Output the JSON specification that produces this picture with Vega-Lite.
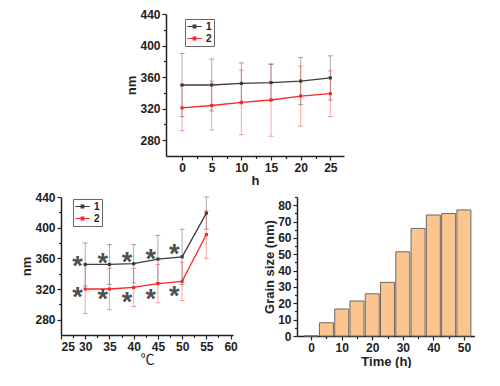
{
  "$schema": "https://vega.github.io/schema/vega-lite/v6.json",
  "background": "white",
  "padding": {"left": 20, "top": 8, "right": 0, "bottom": 0},
  "datasets": {
    "time_nm": [
      {"h": 0, "s": "1", "m": 350, "lo": 310, "hi": 390},
      {"h": 5, "s": "1", "m": 350, "lo": 317, "hi": 383},
      {"h": 10, "s": "1", "m": 352, "lo": 326, "hi": 378},
      {"h": 15, "s": "1", "m": 353, "lo": 330, "hi": 376},
      {"h": 20, "s": "1", "m": 355, "lo": 325, "hi": 385},
      {"h": 25, "s": "1", "m": 359, "lo": 331, "hi": 387},
      {"h": 0, "s": "2", "m": 321, "lo": 292, "hi": 350},
      {"h": 5, "s": "2", "m": 324, "lo": 293, "hi": 355},
      {"h": 10, "s": "2", "m": 328, "lo": 287, "hi": 369},
      {"h": 15, "s": "2", "m": 331, "lo": 285, "hi": 377},
      {"h": 20, "s": "2", "m": 336, "lo": 298, "hi": 374},
      {"h": 25, "s": "2", "m": 339, "lo": 310, "hi": 368}
    ],
    "temp_nm": [
      {"t": 30, "s": "1", "m": 352, "lo": 324, "hi": 380},
      {"t": 35, "s": "1", "m": 352, "lo": 326, "hi": 378},
      {"t": 40, "s": "1", "m": 353, "lo": 328, "hi": 378},
      {"t": 45, "s": "1", "m": 359, "lo": 328, "hi": 390},
      {"t": 50, "s": "1", "m": 362, "lo": 326, "hi": 398},
      {"t": 55, "s": "1", "m": 419, "lo": 398, "hi": 440},
      {"t": 30, "s": "2", "m": 320, "lo": 288, "hi": 352},
      {"t": 35, "s": "2", "m": 320, "lo": 293, "hi": 347},
      {"t": 40, "s": "2", "m": 322, "lo": 297, "hi": 347},
      {"t": 45, "s": "2", "m": 327, "lo": 302, "hi": 352},
      {"t": 50, "s": "2", "m": 330, "lo": 305, "hi": 355},
      {"t": 55, "s": "2", "m": 391, "lo": 360, "hi": 422}
    ],
    "stars": [
      {"t": 28.4, "v": 357}, {"t": 33.6, "v": 361}, {"t": 38.6, "v": 362},
      {"t": 43.5, "v": 365.5}, {"t": 48.4, "v": 372},
      {"t": 28.4, "v": 316}, {"t": 33.6, "v": 313}, {"t": 38.6, "v": 310},
      {"t": 43.5, "v": 313.5}, {"t": 48.4, "v": 318}
    ],
    "grain": [
      {"time": 0, "g": 0}, {"time": 5, "g": 8.1}, {"time": 10, "g": 16.5},
      {"time": 15, "g": 21.4}, {"time": 20, "g": 25.8}, {"time": 25, "g": 32.8},
      {"time": 30, "g": 51.5}, {"time": 35, "g": 65.8}, {"time": 40, "g": 74},
      {"time": 45, "g": 74.9}, {"time": 50, "g": 77.1}
    ]
  },
  "resolve": {"scale": {"color": "independent"}, "legend": {"color": "independent"}},
  "spacing": 4,
  "vconcat": [
    {
      "spacing": 0,
      "resolve": {"scale": {"color": "independent"}, "legend": {"color": "independent"}},
      "hconcat": [
        {"width": 64, "height": 1, "data": {"values": []}, "mark": {"type": "point", "opacity": 0}, "encoding": {}},
        {
          "width": 178,
          "height": 142,
          "data": {"name": "time_nm"},
          "encoding": {
            "x": {"field": "h", "type": "quantitative", "scale": {"domain": [-2.7, 27.3], "nice": false, "zero": false},
                  "axis": {"values": [0, 2.5, 5, 7.5, 10, 12.5, 15, 17.5, 20, 22.5, 25], "labelExpr": "datum.value % 5 == 0 ? datum.label : ''",
                           "tickSize": {"condition": {"test": "datum.value % 5 == 0", "value": 4}, "value": 2.5},
                           "title": "h", "titlePadding": 1, "labelOverlap": false}},
            "y": {"field": "m", "type": "quantitative", "scale": {"domain": [260, 440], "nice": false, "zero": false},
                  "axis": {"values": [280, 300, 320, 340, 360, 380, 400, 420, 440], "labelExpr": "datum.value % 40 == 0 ? datum.label : ''",
                           "tickSize": {"condition": {"test": "datum.value % 40 == 0", "value": 4}, "value": 2.5},
                           "title": "nm", "labelOverlap": false}},
            "color": {"field": "s", "type": "nominal", "scale": {"domain": ["1", "2"], "range": ["#3c3c3c", "#f5282a"]},
                      "legend": {"orient": "none", "legendX": 19, "legendY": 5}}
          },
          "layer": [
            {"mark": {"type": "rule", "strokeWidth": 1, "opacity": 0.42},
             "encoding": {"y": {"field": "lo", "type": "quantitative"}, "y2": {"field": "hi"}}},
            {"mark": {"type": "tick", "orient": "horizontal", "size": 5, "thickness": 1, "opacity": 0.45},
             "encoding": {"y": {"field": "lo", "type": "quantitative"}}},
            {"mark": {"type": "tick", "orient": "horizontal", "size": 5, "thickness": 1, "opacity": 0.45},
             "encoding": {"y": {"field": "hi", "type": "quantitative"}}},
            {"mark": {"type": "line", "strokeWidth": 1.3, "point": {"shape": "square", "size": 10, "filled": true}}}
          ]
        }
      ]
    },
    {
      "spacing": 25,
      "resolve": {"scale": {"color": "independent"}, "legend": {"color": "independent"}},
      "hconcat": [
        {
          "width": 172,
          "height": 138,
          "encoding": {
            "x": {"field": "t", "type": "quantitative", "scale": {"domain": [25, 60.5], "nice": false, "zero": false},
                  "axis": {"values": [25, 27.5, 30, 32.5, 35, 37.5, 40, 42.5, 45, 47.5, 50, 52.5, 55, 57.5, 60], "labelExpr": "datum.value % 5 == 0 ? datum.label : ''",
                           "tickSize": {"condition": {"test": "datum.value % 5 == 0", "value": 4}, "value": 2.5},
                           "title": "℃", "titleFont": "Noto Sans CJK SC", "titleFontWeight": "normal", "titleFontSize": 14, "titlePadding": 0, "labelOverlap": false}},
            "y": {"field": "m", "type": "quantitative", "scale": {"domain": [260, 440], "nice": false, "zero": false},
                  "axis": {"values": [280, 300, 320, 340, 360, 380, 400, 420, 440], "labelExpr": "datum.value % 40 == 0 ? datum.label : ''",
                           "tickSize": {"condition": {"test": "datum.value % 40 == 0", "value": 4}, "value": 2.5},
                           "title": "nm", "labelOverlap": false}}
          },
          "layer": [
            {
              "data": {"name": "temp_nm"},
              "encoding": {
                "color": {"field": "s", "type": "nominal", "scale": {"domain": ["1", "2"], "range": ["#3c3c3c", "#f5282a"]},
                          "legend": {"orient": "none", "legendX": 12, "legendY": 2}}
              },
              "layer": [
                {"mark": {"type": "rule", "strokeWidth": 1, "opacity": 0.42},
                 "encoding": {"y": {"field": "lo", "type": "quantitative"}, "y2": {"field": "hi"}}},
                {"mark": {"type": "tick", "orient": "horizontal", "size": 5, "thickness": 1, "opacity": 0.45},
                 "encoding": {"y": {"field": "lo", "type": "quantitative"}}},
                {"mark": {"type": "tick", "orient": "horizontal", "size": 5, "thickness": 1, "opacity": 0.45},
                 "encoding": {"y": {"field": "hi", "type": "quantitative"}}},
                {"mark": {"type": "line", "strokeWidth": 1.3, "point": {"shape": "square", "size": 10, "filled": true}}}
              ]
            },
            {
              "data": {"name": "stars"},
              "mark": {"type": "text", "text": "*", "fontSize": 27, "fontWeight": "bold", "color": "#505050", "baseline": "middle", "dy": 6},
              "encoding": {
                "y": {"field": "v", "type": "quantitative"}
              }
            }
          ]
        },
        {
          "width": 178,
          "height": 139,
          "data": {"name": "grain"},
          "mark": {"type": "bar", "size": 14, "fill": "#fcc48e", "stroke": "#6a6a6a", "strokeWidth": 1},
          "encoding": {
            "x": {"field": "time", "type": "quantitative", "scale": {"domain": [-3, 52], "nice": false, "zero": false},
                  "axis": {"values": [0, 5, 10, 15, 20, 25, 30, 35, 40, 45, 50], "labelExpr": "datum.value % 10 == 0 ? datum.label : ''",
                           "tickSize": {"condition": {"test": "datum.value % 10 == 0", "value": 4}, "value": 2.5},
                           "title": "Time (h)", "titlePadding": 2, "labelOverlap": false}},
            "y": {"field": "g", "type": "quantitative", "scale": {"domain": [0, 85], "nice": false},
                  "axis": {"values": [0, 5, 10, 15, 20, 25, 30, 35, 40, 45, 50, 55, 60, 65, 70, 75, 80, 85], "labelExpr": "datum.value % 10 == 0 ? datum.label : ''",
                           "tickSize": {"condition": {"test": "datum.value % 10 == 0", "value": 4}, "value": 2.5},
                           "title": "Grain size (nm)", "labelOverlap": false}}
          }
        }
      ]
    }
  ],
  "config": {
    "font": "Liberation Sans",
    "view": {"stroke": null},
    "axis": {
      "grid": false,
      "domainColor": "#222",
      "domainWidth": 1.5,
      "tickColor": "#222",
      "tickSize": 4,
      "tickWidth": 1.2,
      "labelFont": "Liberation Sans",
      "labelFontWeight": "bold",
      "labelFontSize": 12,
      "labelColor": "#222",
      "labelPadding": 2,
      "titleFont": "Liberation Sans",
      "titleFontSize": 13,
      "titleFontWeight": "bold",
      "titleColor": "#222",
      "titlePadding": 1
    },
    "legend": {
      "title": null,
      "strokeColor": "#666",
      "fillColor": "white",
      "padding": 2,
      "rowPadding": 1,
      "symbolType": "M-1.6,0H1.6M-0.3,-0.3H0.3V0.3H-0.3Z",
      "symbolSize": 81,
      "symbolStrokeWidth": 1.2,
      "symbolOpacity": 1,
      "symbolOffset": 2,
      "labelOffset": 6,
      "labelFont": "Liberation Sans",
      "labelFontWeight": "bold",
      "labelFontSize": 10,
      "labelColor": "#222"
    }
  }
}
